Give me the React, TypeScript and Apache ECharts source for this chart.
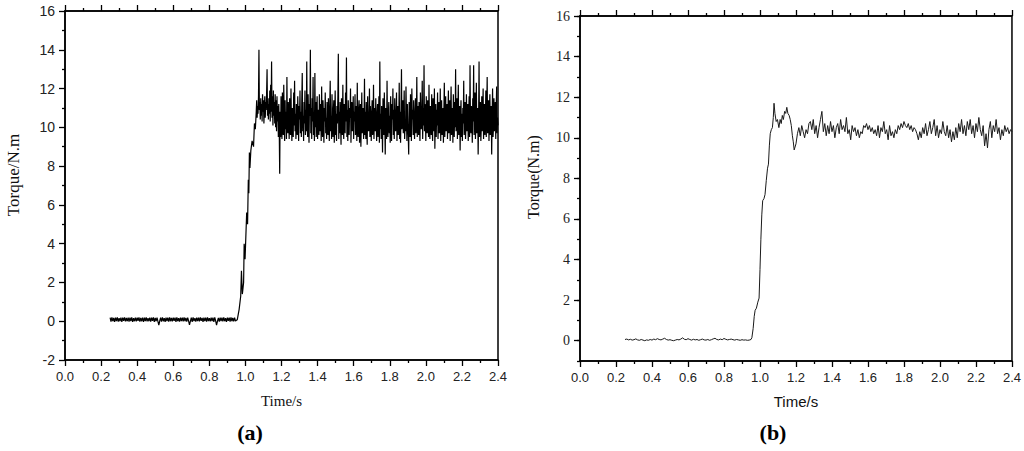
import React, { useEffect, useRef } from "react";
import * as echarts from "echarts";

// ---------- Data ----------
// Panel (a): baseline samples, t = 0.25 .. 0.95 step 0.005
const aBaseStart = 0.25;
const aBaseStep = 0.005;
const aBaseline = [
  0.18, -0.02, 0.2, 0.0, 0.17, -0.03, 0.19, 0.01, 0.2, -0.02,
  0.16, 0.0, 0.19, -0.03, 0.18, 0.02, 0.2, -0.01, 0.17, 0.0,
  0.19, -0.02, 0.18, 0.01, 0.2, -0.03, 0.16, 0.0, 0.19, -0.01,
  0.18, 0.02, 0.2, -0.02, 0.17, 0.0, 0.19, -0.03, 0.18, 0.01,
  0.2, -0.01, 0.16, 0.0, 0.19, -0.02, 0.18, 0.02, 0.2, -0.03,
  0.17, 0.0, 0.19, -0.01, -0.2, 0.01, 0.18, -0.02, 0.2, 0.0,
  0.16, -0.03, 0.19, 0.01, 0.18, -0.02, 0.2, 0.0, 0.17, -0.01,
  0.19, 0.02, 0.18, -0.03, 0.2, 0.0, 0.16, -0.02, 0.19, 0.01,
  0.18, -0.01, 0.2, 0.0, 0.17, -0.02, 0.19, 0.02, -0.19, 0.0,
  0.18, -0.03, 0.2, 0.01, 0.16, -0.02, 0.19, 0.0, 0.18, -0.01,
  0.2, 0.02, 0.17, -0.03, 0.19, 0.0, 0.18, -0.02, 0.2, 0.01,
  0.16, -0.01, 0.19, 0.0, 0.18, -0.03, 0.2, 0.02, -0.2, 0.0,
  0.17, -0.02, 0.19, 0.01, 0.18, -0.01, 0.2, 0.0, 0.16, -0.03,
  0.19, 0.02, 0.18, -0.02, 0.2, 0.0, 0.17, -0.01, 0.19, 0.01,
  0.05,
];
// Panel (a): rising edge, [time, torque]
const aRise: [number, number][] = [
  [0.955, 0.08], [0.965, 0.6], [0.974, 1.3], [0.978, 2.6], [0.983, 1.4],
  [0.99, 2.0], [0.993, 4.0], [0.998, 3.2], [1.007, 5.6], [1.012, 5.0],
  [1.016, 7.3], [1.019, 6.6], [1.022, 8.7], [1.025, 7.9], [1.03, 8.8],
  [1.037, 9.3], [1.045, 9.0], [1.05, 10.2], [1.055, 9.9],
];
// Panel (a): steady state, t = 1.06 .. 2.40 step 0.0025
const aSteadyStart = 1.06;
const aSteadyStep = 0.0025;
const aSteady = [
  10.8, 11.4, 10.5, 11.1, 10.7, 11.6, 14.0, 10.9, 11.3, 10.4,
  11.5, 10.6, 11.2, 10.3, 11.7, 10.8, 11.4, 10.2, 11.0, 11.6,
  10.5, 11.3, 10.9, 11.8, 13.0, 10.6, 11.2, 10.4, 11.5, 10.7,
  11.9, 10.3, 12.2, 10.8, 13.4, 10.5, 11.6, 10.1, 11.9, 10.6,
  11.3, 10.2, 11.7, 10.0, 11.4, 9.8, 11.6, 10.3, 11.1, 9.5,
  11.2, 9.9, 7.6, 10.8, 9.5, 11.6, 10.2, 9.4, 11.8, 10.0,
  9.6, 12.2, 10.5, 9.3, 11.4, 9.9, 10.8, 9.4, 12.6, 10.1,
  9.7, 11.3, 10.4, 9.4, 11.5, 10.0, 9.6, 12.0, 10.3, 9.3,
  11.0, 10.6, 9.5, 11.8, 10.1, 12.4, 9.8, 10.7, 9.4, 11.2,
  10.2, 9.6, 11.6, 10.5, 9.3, 11.1, 10.4, 11.9, 9.7, 10.8,
  9.5, 11.4, 12.8, 9.8, 10.6, 9.3, 11.3, 10.2, 11.9, 9.6,
  10.9, 9.8, 13.4, 10.1, 9.5, 11.7, 10.4, 9.2, 11.2, 10.6,
  14.0, 9.7, 11.0, 9.4, 11.5, 10.3, 12.6, 9.6, 10.8, 9.3,
  12.8, 10.0, 11.3, 9.5, 10.7, 11.6, 9.4, 10.9, 10.2, 9.6,
  11.7, 9.8, 10.4, 11.2, 9.3, 12.1, 10.0, 9.5, 11.4, 10.6,
  9.2, 11.0, 10.3, 11.8, 9.7, 10.5, 9.4, 11.3, 10.1, 9.6,
  11.5, 10.2, 9.3, 11.1, 12.4, 9.8, 10.6, 9.4, 11.7, 10.3,
  9.5, 10.9, 11.4, 9.2, 10.4, 11.9, 9.6, 10.7, 9.3, 11.1,
  10.2, 11.6, 13.8, 9.4, 10.8, 9.7, 11.3, 10.1, 9.1, 11.5,
  10.4, 9.6, 12.2, 10.0, 9.4, 11.2, 10.6, 9.7, 11.8, 10.3,
  13.6, 9.5, 10.9, 9.3, 11.4, 10.2, 9.6, 11.0, 10.5, 12.0,
  9.2, 10.7, 11.3, 9.8, 10.1, 11.6, 9.4, 10.8, 10.3, 11.7,
  9.6, 10.4, 11.1, 9.3, 12.3, 10.0, 9.5, 10.9, 11.4, 9.2,
  10.6, 11.2, 9.0, 10.3, 11.8, 9.7, 10.5, 11.0, 9.4, 10.2,
  12.5, 9.6, 10.8, 9.4, 11.3, 10.0, 9.1, 11.6, 10.4, 9.8,
  10.1, 12.0, 9.5, 11.1, 10.3, 9.3, 10.8, 11.4, 9.6, 10.0,
  12.2, 9.4, 10.6, 11.0, 9.8, 11.5, 10.2, 9.3, 10.7, 11.2,
  9.5, 10.4, 11.6, 9.2, 13.4, 9.9, 10.7, 9.4, 11.1, 10.2,
  8.7, 11.5, 10.0, 9.6, 11.8, 10.3, 8.6, 11.0, 10.5, 9.4,
  12.4, 10.1, 9.5, 10.8, 11.3, 9.7, 10.6, 9.2, 11.6, 10.0,
  9.3, 11.2, 10.4, 12.0, 9.6, 10.9, 9.4, 11.5, 10.2, 9.8,
  10.7, 11.8, 9.3, 10.5, 11.1, 9.6, 10.3, 12.3, 9.4, 10.8,
  9.2, 11.0, 13.0, 9.9, 10.4, 11.4, 9.7, 10.6, 11.9, 9.4,
  10.2, 9.8, 12.1, 10.5, 9.3, 11.2, 10.0, 9.6, 8.6, 11.3,
  10.7, 9.5, 11.7, 10.1, 9.3, 12.0, 10.4, 10.9, 9.6, 11.4,
  10.0, 9.4, 10.8, 11.5, 9.7, 10.3, 12.6, 9.5, 10.6, 11.1,
  9.6, 11.3, 10.2, 9.3, 11.8, 10.5, 9.9, 10.7, 12.4, 9.4,
  11.0, 10.1, 13.2, 9.8, 11.2, 10.4, 9.3, 11.6, 10.0, 9.7,
  11.4, 10.6, 9.5, 12.2, 10.3, 9.4, 11.1, 10.8, 9.6, 11.7,
  10.2, 9.3, 11.5, 10.6, 9.8, 12.0, 8.9, 10.4, 11.2, 9.5,
  10.9, 10.1, 11.8, 9.4, 10.5, 11.3, 9.7, 10.0, 12.0, 9.3,
  10.7, 11.4, 9.6, 10.2, 11.0, 9.2, 10.8, 12.3, 9.5, 10.4,
  11.6, 9.8, 10.3, 11.2, 9.4, 10.6, 11.9, 9.7, 10.1, 11.4,
  9.3, 10.8, 12.1, 9.6, 10.4, 11.0, 9.2, 11.7, 10.2, 9.5,
  11.3, 10.0, 13.0, 9.8, 10.6, 11.5, 9.4, 10.9, 12.2, 9.6,
  10.3, 11.1, 8.8, 10.5, 11.4, 9.5, 10.7, 9.3, 11.0, 10.2,
  12.4, 9.6, 10.8, 11.3, 9.4, 10.1, 11.7, 9.8, 10.5, 11.2,
  9.3, 10.6, 11.6, 9.5, 13.2, 10.0, 9.7, 11.1, 10.4, 9.2,
  11.5, 10.3, 13.2, 9.6, 10.9, 11.8, 9.4, 10.2, 12.3, 9.7,
  10.6, 11.0, 8.6, 10.4, 13.4, 9.5, 10.8, 11.3, 9.3, 10.1,
  11.6, 9.8, 10.5, 12.0, 9.4, 10.7, 11.2, 9.6, 10.3, 11.9,
  9.5, 10.9, 12.6, 9.7, 10.2, 11.4, 9.3, 10.8, 11.7, 9.6,
  10.4, 11.1, 8.6, 10.6, 12.0, 9.5, 10.0, 11.5, 9.8, 10.7,
  11.3, 9.4, 10.9, 12.1, 9.7, 10.5, 10.1,
];

// Panel (b): baseline samples, t = 0.25 .. 0.95 step 0.01
const bBaseStart = 0.25;
const bBaseStep = 0.01;
const bBaseline = [
  0.06, 0.08, 0.04, 0.07, 0.03, 0.05, 0.09, 0.04, 0.02, 0.06,
  0.03, 0.0, 0.04, 0.02, 0.06, 0.03, 0.08, 0.05, 0.1, 0.06,
  0.04, 0.08, 0.12, 0.06, 0.03, 0.05, 0.02, 0.0, 0.03, 0.06,
  0.04, 0.08, 0.14, 0.07, 0.05, 0.1, 0.06, 0.03, 0.07, 0.04,
  0.06, 0.02, 0.05, 0.08, 0.04, 0.03, 0.06, 0.02, 0.05, 0.09,
  0.12, 0.06, 0.04, 0.08, 0.05, 0.11, 0.07, 0.04, 0.06, 0.08,
  0.05, 0.03, 0.06, 0.04, 0.02, 0.05, 0.03, 0.04, 0.02, 0.03, 0.06,
];
// Panel (b): rising edge and overshoot, [time, torque]
const bRise: [number, number][] = [
  [0.955, 0.15], [0.962, 0.6], [0.968, 1.2], [0.973, 1.5], [0.98, 1.6],
  [0.988, 1.9], [0.995, 2.1], [1.0, 3.5], [1.005, 5.0], [1.01, 6.2],
  [1.015, 6.9], [1.022, 7.0], [1.028, 7.2], [1.035, 7.9], [1.042, 8.5],
  [1.047, 8.7], [1.052, 9.6], [1.057, 10.2], [1.063, 10.4], [1.069, 10.5],
  [1.074, 11.0], [1.078, 11.7], [1.083, 11.2], [1.09, 10.8], [1.097, 10.9],
  [1.105, 10.5], [1.112, 10.9], [1.118, 10.7], [1.124, 11.1], [1.13, 10.9],
  [1.137, 11.3], [1.143, 11.2], [1.149, 11.5], [1.155, 11.2], [1.162, 11.1],
  [1.168, 10.9], [1.174, 10.6], [1.18, 10.1], [1.185, 9.8], [1.19, 9.4],
];
// Panel (b): steady state, t = 1.20 .. 2.40 step 0.008
const bSteadyStart = 1.2;
const bSteadyStep = 0.008;
const bSteady = [
  9.7, 10.2, 10.5, 10.1, 10.6, 10.3, 10.0, 10.4, 10.2, 10.7,
  10.8, 10.4, 10.9, 10.2, 10.6, 10.0, 10.5, 10.9, 11.3, 10.3,
  10.7, 10.1, 10.6, 10.2, 10.8, 10.3, 10.6, 10.0, 10.5, 10.7,
  10.2, 10.9, 10.4, 10.6, 10.3, 11.0, 10.2, 10.4, 9.9, 10.6,
  10.3, 10.5, 10.1, 10.4, 10.0, 10.3, 10.2, 10.6, 10.5, 10.7,
  10.4, 10.6, 10.3, 10.5, 10.2, 10.4, 10.1, 10.6, 10.0, 10.5,
  10.3, 10.8, 10.2, 10.4, 9.9, 10.6, 10.1, 10.3, 10.0, 10.4,
  10.2, 10.6, 10.4, 10.7, 10.5, 10.8, 10.6, 10.5, 10.7, 10.4,
  10.6, 10.3, 10.5, 10.4, 10.2, 9.9, 10.3, 10.0, 10.5, 10.2,
  10.7, 10.1, 10.4, 10.8, 10.2, 10.5, 10.9, 10.1, 10.6, 10.0,
  10.4, 10.2, 10.8, 10.3, 10.1, 10.6, 10.0, 10.4, 9.8, 10.3,
  9.9, 10.5, 10.0, 10.7, 10.3, 10.9, 10.2, 10.6, 10.1, 10.8,
  10.4, 10.9, 10.2, 10.6, 10.0, 10.7, 10.3, 11.0, 10.4, 10.1,
  10.6, 9.6, 10.2, 9.5, 10.4, 10.8, 10.0, 10.6, 10.3, 10.9,
  10.2, 10.5, 9.9, 10.4, 10.1, 10.6, 10.3, 10.5, 10.2, 10.4,
  10.3,
];

// Tick values
const aYTicks = [-2, 0, 2, 4, 6, 8, 10, 12, 14, 16];
const bYTicks = [0, 2, 4, 6, 8, 10, 12, 14, 16];

const SANS = "Liberation Sans";
const SERIF = "Liberation Serif";

function sampled(start: number, step: number, vals: number[]): [number, number][] {
  return vals.map((v, i) => [Math.round((start + i * step) * 10000) / 10000, v]);
}

const axisLineStyle = { color: "#000", width: 1.5 };

function xAxes(gridIndex: number, labelSize: number) {
  const common = {
    type: "value" as const,
    gridIndex,
    min: 0,
    max: 2.4,
    interval: 0.2,
    splitLine: { show: false },
    axisLine: { show: true, onZero: false, lineStyle: axisLineStyle },
    axisTick: { show: true, inside: false, length: 6, lineStyle: { color: "#000", width: 1.3 } },
    minorTick: { show: true, splitNumber: 2, length: 3, lineStyle: { color: "#000", width: 1.3 } },
    minorSplitLine: { show: false },
  };
  return [
    {
      ...common,
      position: "bottom",
      axisLabel: {
        show: true,
        margin: 10,
        fontFamily: SANS,
        fontSize: labelSize,
        color: "#222",
        formatter: (v: number) => v.toFixed(1),
      },
    },
    {
      ...common,
      position: "top",
      axisLabel: { show: false },
    },
  ];
}

export default function App() {
  const ref = useRef<HTMLDivElement>(null);

  useEffect(() => {
    if (!ref.current) return;
    const chart = echarts.init(ref.current, null, { renderer: "svg" });

    const dataA = [
      ...sampled(aBaseStart, aBaseStep, aBaseline),
      ...aRise,
      ...sampled(aSteadyStart, aSteadyStep, aSteady),
    ];
    const dataB = [
      ...sampled(bBaseStart, bBaseStep, bBaseline),
      ...bRise,
      ...sampled(bSteadyStart, bSteadyStep, bSteady),
    ];

    const option: any = {
      animation: false,
      backgroundColor: "#fff",
      grid: [
        { left: 65, top: 11, width: 433, height: 349, show: true, borderColor: "#000", borderWidth: 1.5, backgroundColor: "transparent" },
        { left: 580, top: 16, width: 432, height: 345, show: true, borderColor: "#000", borderWidth: 1.5, backgroundColor: "transparent" },
      ],
      xAxis: [
        ...xAxes(0, 13).map((a, i) =>
          i === 0
            ? {
                ...a,
                name: "Time/s",
                nameLocation: "middle",
                nameGap: 33,
                nameTextStyle: { fontFamily: SERIF, fontSize: 15, color: "#111" },
              }
            : a
        ),
        ...xAxes(1, 13).map((a, i) =>
          i === 0
            ? {
                ...a,
                name: "Time/s",
                nameLocation: "middle",
                nameGap: 33,
                nameTextStyle: { fontFamily: SANS, fontSize: 15, color: "#111" },
              }
            : a
        ),
      ],
      yAxis: [
        {
          type: "value",
          gridIndex: 0,
          position: "left",
          min: -2,
          max: 16,
          interval: 2,
          splitLine: { show: false },
          axisLine: { show: true, onZero: false, lineStyle: axisLineStyle },
          axisTick: { show: true, length: 6, lineStyle: { color: "#000", width: 1.3 } },
          minorTick: { show: true, splitNumber: 2, length: 3, lineStyle: { color: "#000", width: 1.3 } },
          axisLabel: {
            margin: 10,
            fontFamily: SANS,
            fontSize: 14,
            color: "#222",
            customValues: aYTicks,
          },
        },
        {
          type: "value",
          gridIndex: 1,
          position: "left",
          min: -1,
          max: 16,
          splitLine: { show: false },
          axisLine: { show: true, onZero: false, lineStyle: axisLineStyle },
          axisTick: { show: true, length: 6, customValues: bYTicks, lineStyle: { color: "#000", width: 1.3 } },
          axisLabel: {
            margin: 10,
            fontFamily: SERIF,
            fontSize: 14,
            color: "#222",
            customValues: bYTicks,
          },
        },
        {
          type: "value",
          gridIndex: 1,
          position: "left",
          min: -1,
          max: 16,
          interval: 1,
          splitLine: { show: false },
          axisLine: { show: false },
          axisTick: { show: true, length: 3, lineStyle: { color: "#000", width: 1.3 } },
          axisLabel: { show: false },
        },
      ],
      series: [
        {
          type: "line",
          xAxisIndex: 0,
          yAxisIndex: 0,
          data: dataA,
          symbol: "none",
          showSymbol: false,
          lineStyle: { color: "#000", width: 1.2 },
          silent: true,
        },
        {
          type: "line",
          xAxisIndex: 2,
          yAxisIndex: 1,
          data: dataB,
          symbol: "none",
          showSymbol: false,
          lineStyle: { color: "#1a1a1a", width: 1 },
          silent: true,
        },
      ],
      graphic: [
        {
          type: "text",
          x: 13,
          y: 175,
          rotation: Math.PI / 2,
          style: { text: "Torque/N.m", fontFamily: SERIF, fontSize: 17, fill: "#111", align: "center", verticalAlign: "middle" },
        },
        {
          type: "text",
          x: 533,
          y: 177,
          rotation: Math.PI / 2,
          style: { text: "Torque(N.m)", fontFamily: SERIF, fontSize: 16, fill: "#111", align: "center", verticalAlign: "middle" },
        },
        {
          type: "text",
          x: 250,
          y: 432,
          style: { text: "(a)", fontFamily: SERIF, fontSize: 22, fontWeight: "bold", fill: "#000", align: "center", verticalAlign: "middle" },
        },
        {
          type: "text",
          x: 773,
          y: 432,
          style: { text: "(b)", fontFamily: SERIF, fontSize: 22, fontWeight: "bold", fill: "#000", align: "center", verticalAlign: "middle" },
        },
      ],
    };

    chart.setOption(option);
    return () => chart.dispose();
  }, []);

  return (
    <div
      ref={ref}
      style={{ position: "fixed", left: 0, top: 0, width: 1024, height: 451, background: "#fff" }}
    />
  );
}
